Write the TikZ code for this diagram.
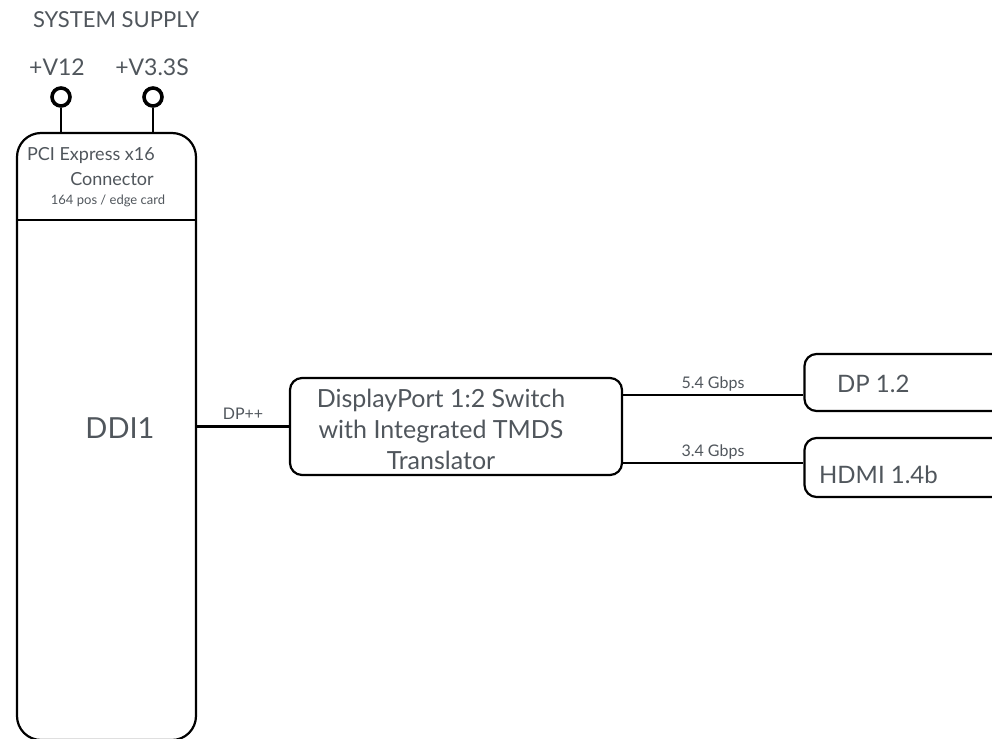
\documentclass[tikz,border=0pt]{standalone}
\usepackage{fontspec}
\setmainfont{Lato}
\usepackage{tikz}
\definecolor{txtgray}{HTML}{50565C}

\begin{document}
\begin{tikzpicture}[x=1pt,y=-1pt,line width=2.2pt,
  blk/.style={draw,rounded corners=12pt,inner sep=0pt},
  lbl/.style={text=txtgray,inner sep=0pt,align=center},
  pin/.style={draw,circle,line width=3.6pt,minimum size=18pt,inner sep=0pt}]
  \useasboundingbox (0,0) rectangle (992,738);
  \clip (0,0) rectangle (992,738);
  \node[lbl,anchor=west,font=\fontsize{22}{24}\selectfont] (supply) at (32,20) {SYSTEM SUPPLY};
  \node[lbl,font=\fontsize{23}{26}\selectfont] (v12) at (57,67) {+V12};
  \node[lbl,font=\fontsize{23}{26}\selectfont] (v33) at (152,67) {+V3.3S};
  \node[pin] (v12pin) at (61,97) {};
  \node[pin] (v33pin) at (153,97) {};
  \node[blk,rounded corners=24pt,minimum width=179pt,minimum height=607pt] (pcie) at (106.5,436.5) {};
  \draw (v12pin.south) -- (v12pin.south |- pcie.north);
  \draw (v33pin.south) -- (v33pin.south |- pcie.north);
  \draw (pcie.west |- 0,220) -- (pcie.east |- 0,220);
  \node[lbl,anchor=west,font=\fontsize{18}{20}\selectfont] (pcitxt) at (26,156) {PCI Express x16};
  \node[lbl,font=\fontsize{18}{20}\selectfont] (contxt) at (112,179) {Connector};
  \node[lbl,font=\fontsize{13}{15}\selectfont] (postxt) at (108,201) {164 pos / edge card};
  \node[lbl,font=\fontsize{29}{32}\selectfont] (ddi) at (120,428) {DDI1};
  \node[blk,minimum width=332pt,minimum height=97pt] (sw) at (456,426.5) {};
  \node[lbl,font=\fontsize{25}{31}\selectfont] (swtxt) at (441,429) {DisplayPort 1:2 Switch\\with Integrated TMDS\\Translator};
  \node[blk,minimum width=215pt,minimum height=57pt] (dp) at (912,382.5) {};
  \node[lbl,anchor=west,font=\fontsize{24}{26}\selectfont] (dptxt) at (836,384) {DP 1.2};
  \node[blk,minimum width=215pt,minimum height=59pt] (hdmi) at (912,467.5) {};
  \node[lbl,anchor=west,font=\fontsize{24}{26}\selectfont] (hdmitxt) at (818,475) {HDMI 1.4b};
  \draw (pcie.east |- sw.west) -- (sw.west);
  \draw (sw.east |- 0,395) -- (dp.west |- 0,395);
  \draw (sw.east |- 0,463) -- (hdmi.west |- 0,463);
  \node[lbl,font=\fontsize{16}{18}\selectfont] (dplbl) at (243,414) {DP++};
  \node[lbl,font=\fontsize{16}{18}\selectfont] (gb54) at (713,384) {5.4 Gbps};
  \node[lbl,font=\fontsize{16}{18}\selectfont] (gb34) at (713,452) {3.4 Gbps};
\end{tikzpicture}
\end{document}
